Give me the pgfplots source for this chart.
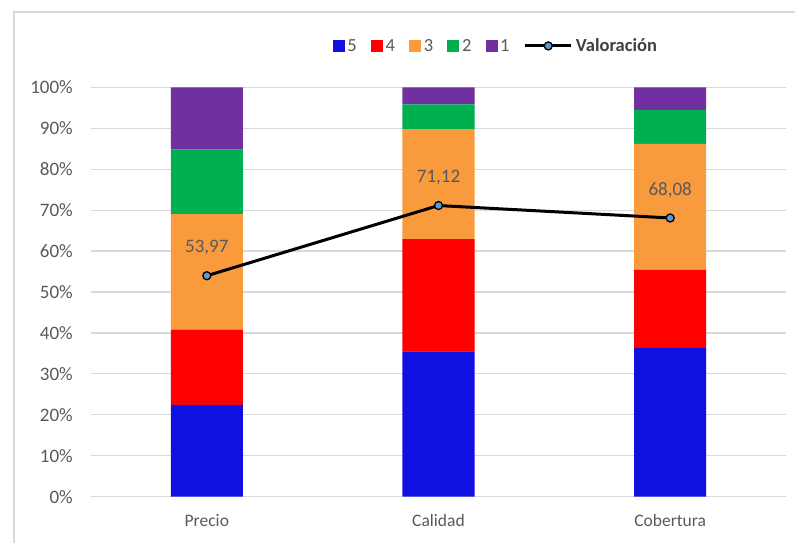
\documentclass[border=0pt]{standalone}
\usepackage{fontspec}
\setmainfont{Carlito}
\usepackage{pgfplots}
\pgfplotsset{compat=1.18}

\definecolor{cFive}{HTML}{1010E0}
\definecolor{cFour}{HTML}{FF0000}
\definecolor{cThree}{HTML}{F99A3C}
\definecolor{cTwo}{HTML}{00B050}
\definecolor{cOne}{HTML}{7030A0}
\definecolor{markblue}{HTML}{5B9BD5}
\definecolor{gridgray}{HTML}{D9D9D9}
\definecolor{framegray}{HTML}{D9D9D9}
\definecolor{labelgray}{HTML}{595959}
\definecolor{darkgray}{HTML}{404040}

\pgfplotsset{
  common/.style={
    scale only axis, width=695bp, height=409.4bp,
    at={(0bp,0bp)}, anchor=south west,
    xmin=-0.5, xmax=2.5, ymin=0, ymax=100,
  },
}

\begin{document}
\begin{tikzpicture}
\path[use as bounding box] (-91bp,-46.3bp) rectangle (704bp,496.7bp);
\draw[framegray, line width=1.2bp] (-77bp,-46.3bp) -- (-77bp,484.7bp) -- (704bp,484.7bp);

% stacked shares of each rating
\begin{axis}[common,
  ybar stacked, bar width=0.311,
  xtick={0,1,2}, xticklabels={Precio,Calidad,Cobertura},
  ytick={0,10,...,100},
  yticklabels={0\%,10\%,20\%,30\%,40\%,50\%,60\%,70\%,80\%,90\%,100\%},
  ymajorgrids, major grid style={gridgray, line width=1.2bp},
  axis line style={draw=none}, major tick length=0pt,
  yticklabel style={font=\fontsize{19bp}{22bp}\selectfont, text=labelgray, anchor=east, inner sep=0pt, xshift=-18bp},
  xticklabel style={font=\fontsize{17.5bp}{20bp}\selectfont, text=labelgray, anchor=base, inner sep=0pt, yshift=-30bp},
]
\addplot[fill=cFive, draw=none]  coordinates {(0,22.4) (1,35.5) (2,36.3)};
\addplot[fill=cFour, draw=none]  coordinates {(0,18.4) (1,27.4) (2,19.1)};
\addplot[fill=cThree, draw=none] coordinates {(0,28.2) (1,26.9) (2,30.8)};
\addplot[fill=cTwo, draw=none]   coordinates {(0,15.8) (1,6.0)  (2,8.3)};
\addplot[fill=cOne, draw=none]   coordinates {(0,15.2) (1,4.2)  (2,5.5)};
\end{axis}

% overall rating line and legend
\begin{axis}[common, hide axis,
  legend columns=-1,
  legend style={at={(0.5835,1.101)}, anchor=center, draw=none, fill=none,
    font=\fontsize{18.5bp}{21bp}\selectfont, text=labelgray, inner sep=0pt,
    /tikz/every even column/.append style={column sep=11bp},
    nodes={inner sep=3.2bp}},
]
\addlegendimage{legend image code/.code={\fill[cFive] (0bp,-5.5bp) rectangle (11bp,5.5bp);}}
\addlegendimage{legend image code/.code={\fill[cFour] (0bp,-5.5bp) rectangle (11bp,5.5bp);}}
\addlegendimage{legend image code/.code={\fill[cThree] (0bp,-5.5bp) rectangle (11bp,5.5bp);}}
\addlegendimage{legend image code/.code={\fill[cTwo] (0bp,-5.5bp) rectangle (11bp,5.5bp);}}
\addlegendimage{legend image code/.code={\fill[cOne] (0bp,-5.5bp) rectangle (11bp,5.5bp);}}
\addplot[black, line width=3bp, mark=*, mark size=4bp,
  mark options={fill=markblue, draw=black, line width=1.3bp},
  point meta=explicit symbolic, nodes near coords,
  every node near coord/.append style={font=\fontsize{19bp}{22bp}\selectfont, text=labelgray, anchor=center, yshift=28bp},
  legend image code/.code={
    \draw[black, line width=3bp] (0bp,0bp) -- (46bp,0bp);
    \draw[fill=markblue, draw=black, line width=1.3bp] (23bp,0bp) circle (4bp);}]
  coordinates {(0,53.97) [53,97] (1,71.12) [71,12] (2,68.08) [68,08]};
\legend{5,4,3,2,1,\textcolor{darkgray}{\textbf{Valoración}}}
\end{axis}
\end{tikzpicture}
\end{document}
